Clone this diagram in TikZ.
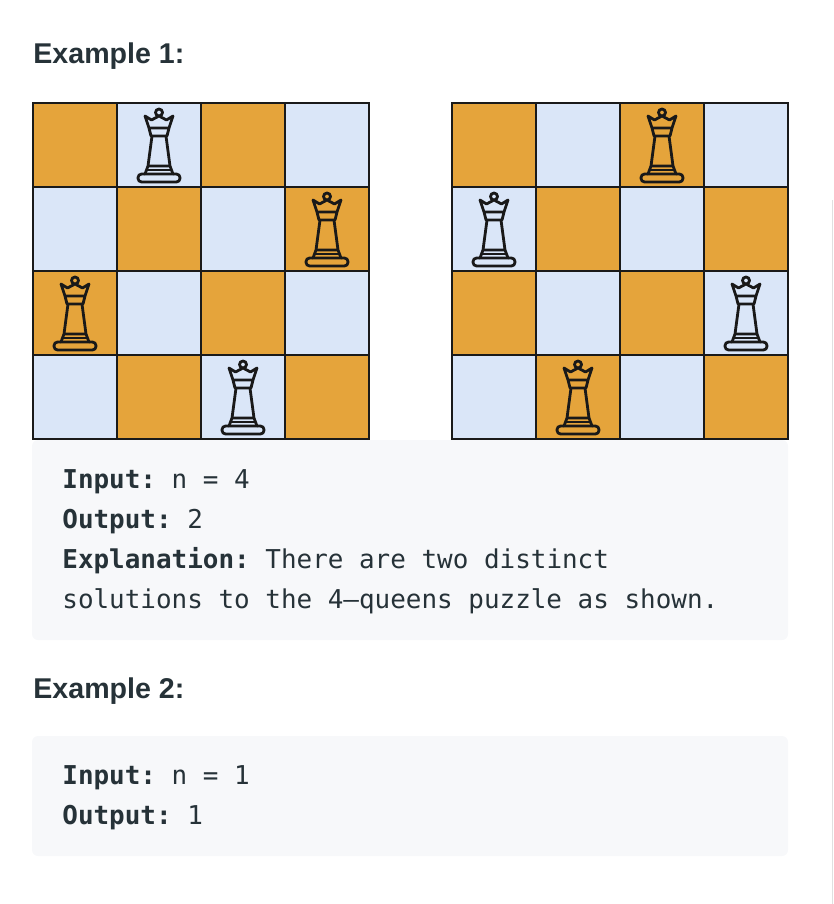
\documentclass[tikz,border=0pt]{standalone}
\usepackage{fontspec}
\setmainfont{Liberation Sans}
\setmonofont{DejaVu Sans Mono}
\definecolor{boardDark}{HTML}{E5A43B}
\definecolor{boardLight}{HTML}{DAE6F8}
\definecolor{boardLine}{HTML}{1A1A1A}
\definecolor{blockFill}{HTML}{F7F8FA}
\definecolor{inkText}{HTML}{263238}
\tikzset{
	darkCell/.style={rectangle, draw=boardLine, fill=boardDark, line width=1pt, minimum size=42pt, inner sep=0pt},
	lightCell/.style={rectangle, draw=boardLine, fill=boardLight, line width=1pt, minimum size=42pt, inner sep=0pt},
	codeBlock/.style={fill=blockFill, rounded corners=3pt},
	titleText/.style={anchor=base west, inner sep=0pt, text=inkText, font=\fontsize{14.3}{16}\selectfont\bfseries},
	codeText/.style={anchor=base west, inner sep=0pt, text=inkText, font=\fontsize{12.97}{15}\selectfont\ttfamily},
	queen/.pic={
		\draw[line width=1.4pt, line join=round, line cap=round, draw=black!90]
			(0,-32.5) circle (3.5)
			(-14,-29) -- (-7.5,-25) -- (0,-29) -- (7.5,-25) -- (14,-29) -- (10,-17) -- (-10,-17) -- cycle
			(-10,-17) -- (-8,-9) -- (8,-9) -- (10,-17)
			(-7,-9) -- (-11,21) (7,-9) -- (11,21)
			(-14,29) -- (-11,21) -- (11,21) -- (14,29);
		\draw[line width=1.4pt, draw=black!90, rounded corners=1.8pt] (-21,29) rectangle (21,37);
		\draw[line width=0.9pt, draw=black!90] (-13,25) -- (13,25);
	}
}
\begin{document}
\begin{tikzpicture}[x=0.5pt, y=-0.5pt]
	\useasboundingbox (0,0) rectangle (834,904);

	\draw[draw=black!12, line width=0.9pt] (832.5,200) -- (832.5,904);

	\node[titleText](titleOne) at (33,64){Example 1:};

	% left board and right board
	\foreach \row in {0,1,2,3}{
		\foreach \col in {0,1,2,3}{
			\pgfmathtruncatemacro{\parity}{mod(\row+\col,2)}
			\ifnum\parity=0
				\node[darkCell](boardA\row\col) at (75+84*\col,145+84*\row){};
				\node[darkCell](boardB\row\col) at (494+84*\col,145+84*\row){};
			\else
				\node[lightCell](boardA\row\col) at (75+84*\col,145+84*\row){};
				\node[lightCell](boardB\row\col) at (494+84*\col,145+84*\row){};
			\fi
		}
	}

	\foreach \cellName in {boardA01,boardA13,boardA20,boardA32,boardB02,boardB10,boardB23,boardB31}{
		\pic at (\cellName) {queen};
	}

	\node[codeBlock, minimum width=378pt, minimum height=100pt, inner sep=0pt](blockOne) at (410,540){};
	\node[codeText](inputOne) at (62,488){\textbf{Input:} n = 4};
	\node[codeText](outputOne) at (62,528){\textbf{Output:} 2};
	\node[codeText](explainOne) at (62,568){\textbf{Explanation:} There are two distinct};
	\node[codeText](explainTwo) at (62,608){solutions to the 4–queens puzzle as shown.};

	\node[titleText](titleTwo) at (33,698){Example 2:};

	\node[codeBlock, minimum width=378pt, minimum height=60pt, inner sep=0pt](blockTwo) at (410,796){};
	\node[codeText](inputTwo) at (62,784){\textbf{Input:} n = 1};
	\node[codeText](outputTwo) at (62,824){\textbf{Output:} 1};
\end{tikzpicture}
\end{document}
